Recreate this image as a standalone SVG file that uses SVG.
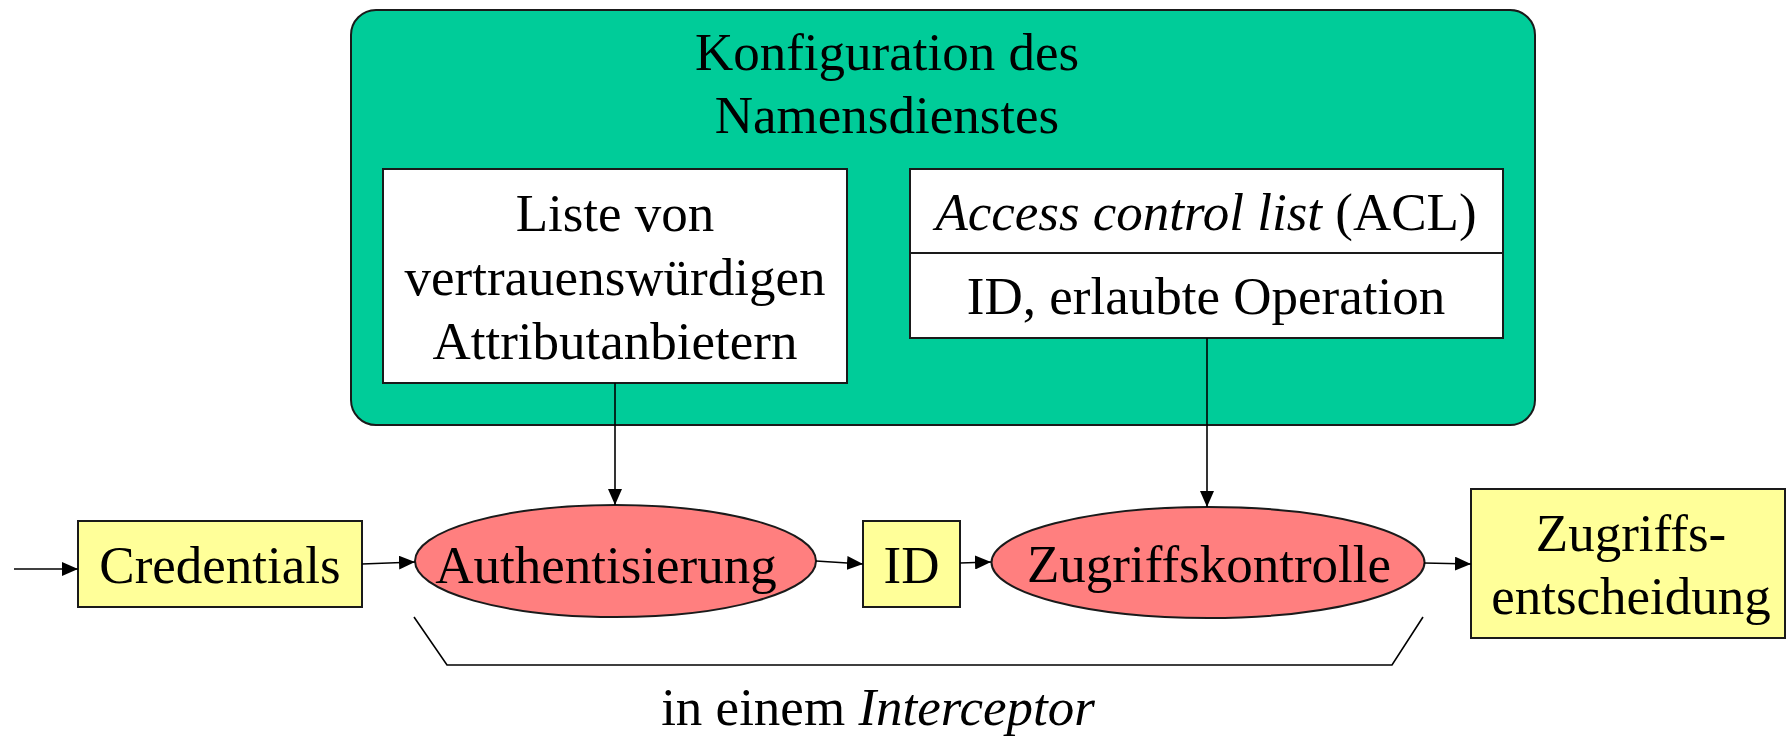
<svg xmlns="http://www.w3.org/2000/svg" width="1787" height="736" viewBox="0 0 1787 736">
  <defs>
    <marker id="arrow" viewBox="0 0 16 14" refX="16" refY="7" markerWidth="16" markerHeight="14" markerUnits="userSpaceOnUse" orient="auto">
      <path d="M0,0 L16,7 L0,14 Z" fill="#000"/>
    </marker>
  </defs>
  <style>
    text { font-family: "Liberation Serif", "Times New Roman", serif; font-size: 53px; fill: #000; text-anchor: middle; }
    .it { font-style: italic; }
    .box { stroke: #1a1a1a; stroke-width: 2; }
    .config { fill: #00CC99; }
    .plain { fill: #FFFFFF; }
    .data { fill: #FFFF99; }
    .step { fill: #FF7F7F; }
    .edge { fill: none; stroke: #000; stroke-width: 1.6; }
  </style>

  <rect width="1787" height="736" fill="#FFFFFF"/>

  <!-- Name service configuration -->
  <g id="config">
    <rect class="box config" x="351" y="10" width="1184" height="415" rx="25" ry="25"/>
    <text x="887" y="70">Konfiguration des</text>
    <text x="887" y="133">Namensdienstes</text>
  </g>

  <g id="trusted-providers">
    <rect class="box plain" x="383" y="169" width="464" height="214"/>
    <text x="615" y="231">Liste von</text>
    <text x="615" y="295">vertrauenswürdigen</text>
    <text x="615" y="359">Attributanbietern</text>
  </g>

  <g id="acl">
    <rect class="box plain" x="910" y="169" width="593" height="169"/>
    <line class="box" x1="910" y1="253" x2="1503" y2="253"/>
    <text x="1206" y="230"><tspan class="it">Access control list</tspan> (ACL)</text>
    <text x="1206" y="314">ID, erlaubte Operation</text>
  </g>

  <!-- Processing chain -->
  <g id="credentials">
    <rect class="box data" x="78" y="521" width="284" height="86"/>
    <text x="220" y="583">Credentials</text>
  </g>

  <g id="authentication">
    <ellipse class="box step" cx="615.5" cy="561" rx="200.5" ry="56"/>
    <text x="606" y="583">Authentisierung</text>
  </g>

  <g id="id">
    <rect class="box data" x="863" y="521" width="97" height="86"/>
    <text x="911.5" y="583">ID</text>
  </g>

  <g id="access-control">
    <ellipse class="box step" cx="1208" cy="562.5" rx="216.5" ry="55.5"/>
    <text x="1209" y="582">Zugriffskontrolle</text>
  </g>

  <g id="decision">
    <rect class="box data" x="1471" y="489" width="314" height="149"/>
    <text x="1631" y="551">Zugriffs-</text>
    <text x="1631" y="614">entscheidung</text>
  </g>

  <!-- Interceptor bracket -->
  <g id="interceptor">
    <polyline class="edge" points="414,617 447,665 1392,665 1423,617"/>
    <text x="878" y="725">in einem <tspan class="it">Interceptor</tspan></text>
  </g>

  <!-- Connectors -->
  <g id="connectors">
    <line class="edge" x1="14" y1="569" x2="78" y2="569" marker-end="url(#arrow)"/>
    <line class="edge" x1="362" y1="564" x2="415" y2="562" marker-end="url(#arrow)"/>
    <line class="edge" x1="816" y1="561" x2="863" y2="564" marker-end="url(#arrow)"/>
    <line class="edge" x1="960" y1="563" x2="991" y2="562" marker-end="url(#arrow)"/>
    <line class="edge" x1="1424" y1="563" x2="1471" y2="564" marker-end="url(#arrow)"/>
    <line class="edge" x1="615" y1="383" x2="615" y2="505" marker-end="url(#arrow)"/>
    <line class="edge" x1="1207" y1="338" x2="1207" y2="507" marker-end="url(#arrow)"/>
  </g>
</svg>
